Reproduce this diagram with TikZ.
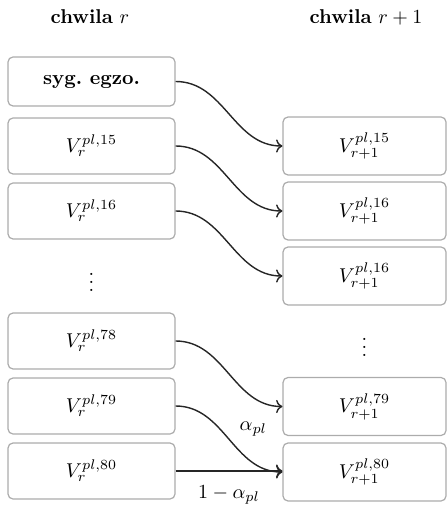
\documentclass[tikz,border=0pt]{standalone}
\usepackage{amsmath}
\usetikzlibrary{arrows.meta}
\begin{document}
\begin{tikzpicture}[x=0.5pt,y=-0.5pt,
  lbox/.style={draw=gray!65,line width=0.6pt,rounded corners=2.5pt,fill=white,
    minimum width=83.5pt,minimum height=28pt,inner sep=0pt},
  sbox/.style={lbox,minimum height=24.5pt},
  rbox/.style={lbox,minimum width=81.5pt,minimum height=29pt},
  hdr/.style={inner sep=0pt},
  conn/.style={->,line width=0.7pt,draw=black!85},
  lab/.style={inner sep=2pt}]
\useasboundingbox (0,0) rectangle (447,506);
\node[hdr] (h1) at (90,17) {\textbf{chwila} $r$};
\node[hdr] (h2) at (366,17) {\textbf{chwila} $r+1$};
% left column
\node[sbox] (s) at (91.5,81.5) {\textbf{syg.\ egzo.}};
\node[lbox] (l15) at (91.5,146) {$V_r^{pl,15}$};
\node[lbox] (l16) at (91.5,211) {$V_r^{pl,16}$};
\node[inner sep=0pt] (ld) at (91.5,276) {$\vdots$};
\node[lbox] (l78) at (91.5,341) {$V_r^{pl,78}$};
\node[lbox] (l79) at (91.5,406) {$V_r^{pl,79}$};
\node[lbox] (l80) at (91.5,471) {$V_r^{pl,80}$};
% right column
\node[rbox] (r15) at (364.5,146) {$V_{r+1}^{pl,15}$};
\node[rbox] (r16) at (364.5,211) {$V_{r+1}^{pl,16}$};
\node[rbox] (r16b) at (364.5,276) {$V_{r+1}^{pl,16}$};
\node[inner sep=0pt] (rd) at (364.5,341) {$\vdots$};
\node[rbox] (r79) at (364.5,406.5) {$V_{r+1}^{pl,79}$};
\node[rbox] (r80) at (364.5,472) {$V_{r+1}^{pl,80}$};
% connectors
\draw[conn] (s.east) to[out=0,in=180] (r15.west);
\draw[conn] (l15.east) to[out=0,in=180] (r16.west);
\draw[conn] (l16.east) to[out=0,in=180] (r16b.west);
\draw[conn] (l78.east) to[out=0,in=180] (r79.west);
\draw[conn] (l79.east) to[out=0,in=180] node[lab,above right,xshift=3pt,yshift=-1pt] {$\alpha_{pl}$} (r80.west);
\draw[conn] (l80.east) -- node[lab,below,yshift=-5pt] {$1-\alpha_{pl}$} (r80.west |- l80.east);
\end{tikzpicture}
\end{document}
